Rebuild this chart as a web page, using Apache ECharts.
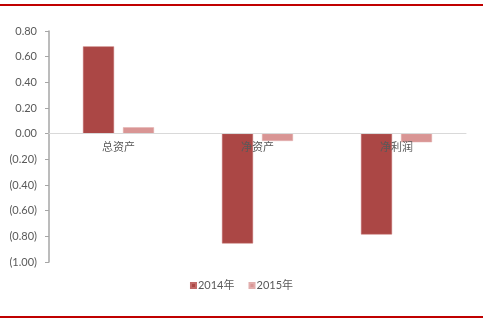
<!DOCTYPE html>
<html><head><meta charset="utf-8">
<script src="https://cdn.jsdelivr.net/npm/echarts@6/dist/echarts.min.js"></script>
<style>
html,body{margin:0;padding:0;background:#fff;}
#wrap{position:relative;width:483px;height:321px;}
#c{position:absolute;left:0;top:0;width:483px;height:321px;}
.rl{position:absolute;left:0;width:483px;height:2px;background:#C00000;}
</style></head>
<body>
<div id="wrap">
<div id="c"></div>
<div class="rl" style="top:4px"></div>
<div class="rl" style="top:316px"></div>
</div>
<script>
var categories = ['总资产', '净资产', '净利润'];
var seriesNames = ['2014年', '2015年'];
var values2014 = [0.68, -0.855, -0.785];
var values2015 = [0.05, -0.057, -0.067];
var colors = ['#AB4745', '#D99594'];
var yMin = -1, yMax = 0.8, yStep = 0.2;

var gridTop = 31, gridBottom = 59, H = 321;
var plotH = H - gridTop - gridBottom;
var zeroOffset = -plotH * (0 - yMin) / (yMax - yMin);

var chart = echarts.init(document.getElementById('c'), null, {renderer: 'canvas'});
chart.setOption({
  animation: false,
  grid: {left: 49, right: 17, top: gridTop, bottom: gridBottom},
  legend: {
    data: seriesNames,
    bottom: 25,
    left: 'center',
    itemWidth: 5, itemHeight: 5, itemGap: 14,
    icon: 'rect',
    textStyle: {color: '#595959', fontSize: 11, fontFamily: 'Lato, "Noto Sans CJK SC", sans-serif', padding: [0, 0, 0, -3]}
  },
  xAxis: {
    type: 'category',
    data: categories,
    position: 'bottom',
    offset: zeroOffset,
    axisLine: {onZero: false, lineStyle: {color: '#D9D9D9', width: 1}},
    axisTick: {show: false},
    axisLabel: {color: '#595959', fontSize: 11, margin: 8, fontFamily: '"Noto Sans CJK SC", serif'},
    z: 10
  },
  yAxis: {
    type: 'value',
    min: yMin, max: yMax, interval: yStep,
    splitLine: {show: false},
    axisLine: {show: true, lineStyle: {color: '#A6A6A6', width: 1.5}},
    axisTick: {show: true, length: 4, lineStyle: {color: '#A6A6A6'}},
    axisLabel: {
      color: '#595959', fontSize: 11, margin: 12, fontFamily: 'Lato, sans-serif',
      formatter: function (v) {
        var s = Math.abs(v).toFixed(2);
        return v < -1e-9 ? '(' + s + ')' : s;
      }
    }
  },
  series: [
    {name: seriesNames[0], type: 'bar', data: values2014, barWidth: 31, barGap: '29%',
     itemStyle: {color: colors[0], borderColor: '#C06A68', borderWidth: 0.5}},
    {name: seriesNames[1], type: 'bar', data: values2015, barWidth: 31,
     itemStyle: {color: colors[1], borderColor: '#E2AEAD', borderWidth: 0.5}}
  ]
});
</script>
</body></html>
